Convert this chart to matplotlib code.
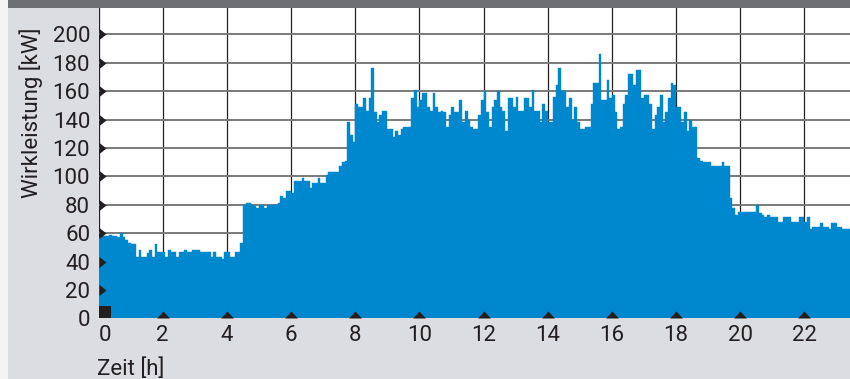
"""Wirkleistung über einen Tag, 5-Minuten-Werte."""

import matplotlib
matplotlib.use("Agg")
import matplotlib.pyplot as plt
from matplotlib.patches import Rectangle
from matplotlib.path import Path
import numpy as np

# 5-minute mean values in kW
power_kw = [
    57, 58, 58, 58, 59, 58, 58, 57, 60, 57,
    55, 53, 52, 52, 43, 48, 43, 43, 46, 48,
    43, 52, 47, 47, 47, 43, 48, 47, 47, 43,
    47, 47, 48, 47, 47, 48, 48, 48, 47, 47,
    47, 47, 43, 47, 43, 43, 42, 47, 47, 43,
    43, 47, 47, 53, 80, 81, 81, 80, 79, 78,
    80, 80, 78, 80, 80, 80, 80, 81, 86, 85, 90,
    90, 88, 97, 97, 97, 99, 97, 97, 92, 95,
    95, 99, 95, 95, 101, 103, 103, 103, 103, 107,
    110, 111, 138, 129, 124, 151, 149, 149, 155, 146,
    155, 176, 145, 138, 143, 146, 146, 133, 133, 128,
    132, 129, 133, 135, 135, 135, 155, 161, 149, 154,
    159, 159, 149, 146, 159, 149, 145, 146, 145, 135,
    143, 149, 145, 145, 154, 138, 146, 140, 135, 133,
    133, 143, 154, 160, 145, 135, 149, 154, 160, 149,
    146, 132, 155, 155, 149, 156, 146, 146, 155, 155,
    149, 161, 146, 146, 138, 151, 146, 138, 138, 156,
    164, 176, 160, 160, 149, 155, 140, 149, 138, 133,
    133, 135, 135, 151, 166, 166, 186, 154, 154, 168,
    155, 157, 145, 133, 135, 151, 157, 172, 172, 164,
    175, 175, 155, 157, 157, 151, 133, 143, 149, 157,
    138, 145, 155, 166, 164, 149, 149, 138, 145, 132,
    140, 135, 135, 113, 111, 110, 110, 110, 107, 107,
    107, 107, 110, 107, 107, 85, 78, 73, 75, 75,
    75, 75, 75, 75, 75, 80, 74, 73, 71, 73,
    71, 71, 71, 68, 68, 71, 71, 71, 68, 68,
    68, 71, 71, 68, 71, 63, 64, 64, 64, 67,
    64, 64, 63, 67, 67, 64, 64, 63, 63, 63, 64,
]
hours = np.arange(len(power_kw)) * 5 / 60

x_ticks = list(range(0, 23, 2))
y_ticks = list(range(0, 201, 20))

BLUE = "#0088cf"
INK = "#231f20"
PANEL = "#dcdde0"
FS = 16

plt.rcParams["font.family"] = ["Roboto", "DejaVu Sans"]

W, H = 850, 379
fig = plt.figure(figsize=(W / 100, H / 100), dpi=100, facecolor=PANEL)

# frame decoration: white strip on the left, dark bar on top
fig.patches.append(Rectangle((0, 0), 8 / W, 1, transform=fig.transFigure,
                             facecolor="#f4f4f5", edgecolor="none", zorder=0))
fig.patches.append(Rectangle((8 / W, 1 - 7.5 / H), 1, 7.5 / H, transform=fig.transFigure,
                             facecolor="#6d6e71", edgecolor="none", zorder=0))

left, bottom, top = 98.5, 318.3, 7.5
ax = fig.add_axes([left / W, 1 - bottom / H, 1 - left / W, (bottom - top) / H])
ax.set_facecolor("white")
for s in ax.spines.values():
    s.set_visible(False)

ax.bar(hours, power_kw, width=5 / 60, align="edge", color=BLUE,
       edgecolor=BLUE, linewidth=0.3, zorder=2)

ax.set_xlim(0, 23.42)
ax.set_ylim(0, 218.9)

ax.set_xticks(x_ticks)
ax.set_yticks(y_ticks)
ax.tick_params(length=0, labelsize=FS, labelcolor=INK)
ax.tick_params(axis="x", pad=5)
ax.tick_params(axis="y", pad=6)
ax.get_xticklabels()[0].set_horizontalalignment("left")

# grid: grey horizontals, dark verticals, both behind the bars
ax.set_axisbelow(True)
ax.yaxis.grid(True, color="#7a7a7a", linewidth=1.4)
ax.xaxis.grid(True, color=INK, linewidth=0.9)

# triangle tick marks and the square at the origin
tri_right = Path([(0, -5.5), (7, 0), (0, 5.5), (0, -5.5)])
tri_up = Path([(-6.5, 0), (6.5, 0), (0, 7), (-6.5, 0)])
square = Path([(0, 0), (12, 0), (12, 12), (0, 12), (0, 0)])
ax.plot([0] * (len(y_ticks) - 1), y_ticks[1:], linestyle="none", marker=tri_right,
        markersize=10.08, color=INK, mew=0, clip_on=False, zorder=5)
ax.plot(x_ticks[1:], [0] * (len(x_ticks) - 1), linestyle="none", marker=tri_up,
        markersize=10.08, color=INK, mew=0, clip_on=False, zorder=5)
ax.plot([0], [0], linestyle="none", marker=square, markersize=17.28,
        color=INK, mew=0, clip_on=False, zorder=5)

ax.set_ylabel("Wirkleistung [kW]", fontsize=FS, color=INK)
ax.yaxis.set_label_coords((42.7 - left) / (W - left), (bottom - 113) / (bottom - top))
ax.set_xlabel("Zeit [h]", fontsize=FS, color=INK, ha="left", va="baseline")
ax.xaxis.set_label_coords((97 - left) / (W - left), (bottom - 375) / (bottom - top))

fig.savefig("out.png", dpi=100, facecolor=PANEL)
